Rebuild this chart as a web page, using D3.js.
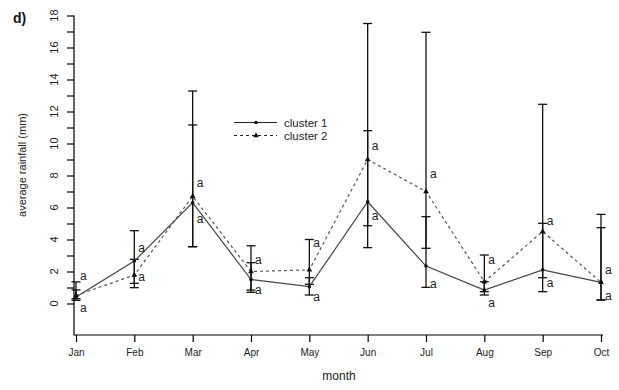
<!DOCTYPE html>
<html>
<head>
<meta charset="utf-8">
<script src="https://cdn.jsdelivr.net/npm/d3@7/dist/d3.min.js"></script>
<style>
  html, body { margin: 0; padding: 0; background: #fff; }
  svg { display: block; font-family: "Liberation Sans", Arial, sans-serif; }
</style>
</head>
<body>
<svg id="chart" width="619" height="390"></svg>
<script>
// Monthly average rainfall per cluster, with error-bar bounds
const months = ["Jan", "Feb", "Mar", "Apr", "May", "Jun", "Jul", "Aug", "Sep", "Oct"];
const cluster1 = [0.4, 2.65, 6.3, 1.5, 1.05, 6.36, 2.34, 0.84, 2.1, 1.32];
const cluster1Low = [0.2, 0.99, 3.55, 0.7, 0.53, 3.49, 1.01, 0.53, 0.74, 0.22];
const cluster1High = [1.35, 4.55, 11.16, 2.55, 1.61, 10.8, 5.43, 1.36, 5.01, 4.74];
const cluster2 = [0.5, 1.78, 6.7, 2.0, 2.1, 9.0, 7.0, 1.36, 4.5, 1.32];
const cluster2Low = [0.3, 1.26, 3.55, 0.84, 1.2, 4.86, 3.45, 0.74, 1.61, 0.22];
const cluster2High = [0.85, 2.76, 13.28, 3.61, 4.0, 17.5, 16.95, 3.03, 12.45, 5.57];
// Significance letters and the rainfall level each is anchored at
const lettersHigh = ["a", "a", "a", "a", "a", "a", "a", "a", "a", "a"];
const lettersHighAt = [1.72, 3.47, 7.53, 2.72, 3.78, 9.86, 8.09, 2.72, 5.18, 2.09];
const lettersLow = ["a", "a", "a", "a", "a", "a", "a", "a", "a", "a"];
const lettersLowAt = [-0.28, 1.66, 5.28, 0.84, 0.41, 5.47, 1.22, 0.03, 1.28, 0.5];
const yTicks = d3.range(0, 19);
const seriesNames = ["cluster 1", "cluster 2"];

const svg = d3.select("#chart");
const frame = { left: 74, right: 603, top: 15.5, bottom: 335 };

const x = d3.scalePoint().domain(months).range([76, 601]);
const y = d3.scaleLinear().domain([0, 18]).range([303.5, 15.5]);

// L-shaped frame
svg.append("path")
  .attr("d", `M${frame.left},${frame.top}V${frame.bottom}H${frame.right}`)
  .attr("fill", "none").attr("stroke", "#000").attr("stroke-width", 1.2);

// Y axis: a tick at every unit, labels on even values, rotated
const yAxis = svg.append("g")
  .attr("transform", `translate(${frame.left},0)`)
  .call(d3.axisLeft(y).tickValues(yTicks).tickSize(7).tickFormat(""));
yAxis.select(".domain").remove();
yAxis.selectAll(".tick line").attr("stroke", "#000").attr("stroke-width", 1.2);
svg.append("g").selectAll("text")
  .data(yTicks.filter(d => d % 2 === 0))
  .join("text")
  .attr("transform", d => `translate(58,${y(d)}) rotate(-90)`)
  .attr("text-anchor", "middle")
  .attr("font-size", 11)
  .attr("fill", "#222")
  .text(d => d);

// X axis
const xAxis = svg.append("g")
  .attr("transform", `translate(0,${frame.bottom})`)
  .call(d3.axisBottom(x).tickSize(7).tickPadding(7));
xAxis.select(".domain").remove();
xAxis.selectAll(".tick line").attr("stroke", "#000").attr("stroke-width", 1.2);
xAxis.selectAll(".tick text")
  .attr("font-size", 10).attr("fill", "#222")
  .attr("font-family", "Liberation Sans, Arial, sans-serif");

// Axis titles and panel tag
svg.append("text").attr("x", 339).attr("y", 380)
  .attr("text-anchor", "middle").attr("font-size", 12).attr("fill", "#222")
  .text("month");
svg.append("text")
  .attr("transform", "translate(26,165) rotate(-90)")
  .attr("text-anchor", "middle").attr("font-size", 11).attr("fill", "#222")
  .text("average rainfall (mm)");
svg.append("text").attr("x", 13).attr("y", 23)
  .attr("font-size", 14).attr("font-weight", "bold").attr("fill", "#111")
  .text("d)");

// Error bars for both clusters
const bars = [];
months.forEach((m, i) => {
  bars.push({ m, lo: cluster1Low[i], hi: cluster1High[i] });
  bars.push({ m, lo: cluster2Low[i], hi: cluster2High[i] });
});
const eb = svg.append("g").attr("stroke", "#111").attr("stroke-width", 1.3);
eb.selectAll("line.v").data(bars).join("line").attr("class", "v")
  .attr("x1", d => x(d.m)).attr("x2", d => x(d.m))
  .attr("y1", d => y(d.lo)).attr("y2", d => y(d.hi));
const caps = bars.flatMap(d => [{ m: d.m, v: d.lo }, { m: d.m, v: d.hi }]);
eb.selectAll("line.c").data(caps).join("line").attr("class", "c")
  .attr("x1", d => x(d.m) - 4.5).attr("x2", d => x(d.m) + 4.5)
  .attr("y1", d => y(d.v)).attr("y2", d => y(d.v));

// Series lines
const line = d3.line().x(d => x(d.m)).y(d => y(d.v));
const s1 = months.map((m, i) => ({ m, v: cluster1[i] }));
const s2 = months.map((m, i) => ({ m, v: cluster2[i] }));
svg.append("path").datum(s2).attr("d", line)
  .attr("fill", "none").attr("stroke", "#555").attr("stroke-width", 1.2)
  .attr("stroke-dasharray", "3,3");
svg.append("path").datum(s1).attr("d", line)
  .attr("fill", "none").attr("stroke", "#444").attr("stroke-width", 1.2);

// Point markers
const tri = d3.symbol().type(d3.symbolTriangle).size(14);
svg.append("g").selectAll("path").data(s2).join("path")
  .attr("d", tri).attr("fill", "#111")
  .attr("transform", d => `translate(${x(d.m)},${y(d.v)})`);
svg.append("g").selectAll("circle").data(s1).join("circle")
  .attr("cx", d => x(d.m)).attr("cy", d => y(d.v)).attr("r", 1.8).attr("fill", "#111");

// Significance letters
const letters = svg.append("g").attr("font-size", 12).attr("fill", "#222");
letters.selectAll("text.h").data(months).join("text").attr("class", "h")
  .attr("x", d => x(d) + 4).attr("y", (d, i) => y(lettersHighAt[i]))
  .attr("dy", "0.35em").text((d, i) => lettersHigh[i]);
letters.selectAll("text.l").data(months).join("text").attr("class", "l")
  .attr("x", d => x(d) + 4).attr("y", (d, i) => y(lettersLowAt[i]))
  .attr("dy", "0.35em").text((d, i) => lettersLow[i]);

// Legend
const legend = svg.append("g");
const legendRows = [
  { name: seriesNames[0], dash: null, marker: "circle", yy: 122.5 },
  { name: seriesNames[1], dash: "3,3", marker: "tri", yy: 135.5 }
];
legendRows.forEach(r => {
  legend.append("line").attr("x1", 234).attr("x2", 277).attr("y1", r.yy).attr("y2", r.yy)
    .attr("stroke", "#222").attr("stroke-width", 1.2)
    .attr("stroke-dasharray", r.dash);
  if (r.marker === "circle") {
    legend.append("circle").attr("cx", 256).attr("cy", r.yy).attr("r", 1.8).attr("fill", "#111");
  } else {
    legend.append("path").attr("d", tri).attr("fill", "#111")
      .attr("transform", `translate(256,${r.yy})`);
  }
  legend.append("text").attr("x", 284).attr("y", r.yy).attr("dy", "0.35em")
    .attr("font-size", 11.5).attr("fill", "#222").text(r.name);
});
</script>
</body>
</html>
